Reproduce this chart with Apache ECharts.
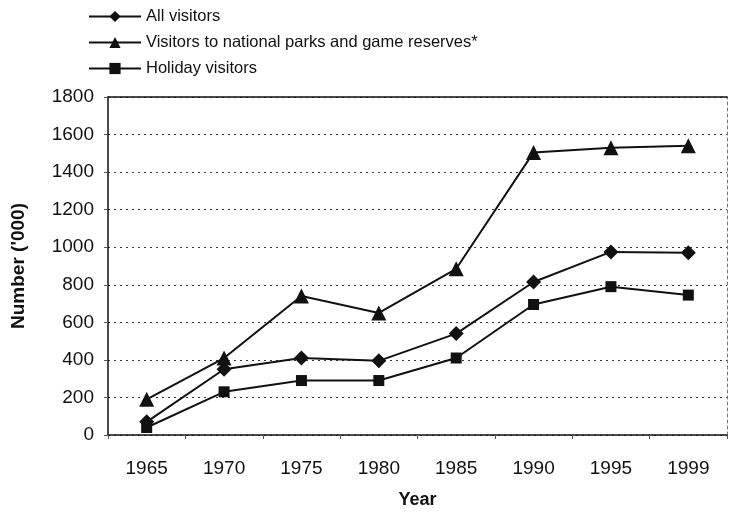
<!DOCTYPE html>
<html><head><meta charset="utf-8">
<script src="https://cdn.jsdelivr.net/npm/echarts@6/dist/echarts.min.js"></script>
<style>html,body{margin:0;padding:0;background:#fff}#c{width:733px;height:514px}</style>
</head><body><div id="c"></div>
<script>
const years = ['1965','1970','1975','1980','1985','1990','1995','1999'];
const allVisitors = [70, 350, 410, 395, 540, 815, 975, 970];
const parkVisitors = [190, 410, 740, 650, 885, 1505, 1530, 1540];
const holidayVisitors = [40, 230, 290, 290, 410, 695, 790, 745];
const seriesNames = ['All visitors', 'Visitors to national parks and game reserves*', 'Holiday visitors'];

const font = 'Liberation Sans, Arial, sans-serif';
const ink = '#111';
function line(name, data, symbol, size) {
  return { name, type: 'line', data, symbol, symbolSize: size,
    lineStyle: { color: ink, width: 2 }, itemStyle: { color: ink },
    emphasis: { disabled: true }, animation: false };
}
const chart = echarts.init(document.getElementById('c'));
chart.setOption({
  animation: false,
  legend: {
    orient: 'vertical', left: 83, top: 3, itemWidth: 52, itemHeight: 14, itemGap: 9,
    textStyle: { fontFamily: font, fontSize: 16.5, color: ink },
    data: seriesNames
  },
  grid: { left: 108, right: 6, top: 97, bottom: 77 },
  xAxis: [{
    type: 'category', data: years, boundaryGap: true,
    axisLine: { lineStyle: { color: ink, width: 1.5 } },
    axisTick: { show: true, length: 4, lineStyle: { color: '#555' } },
    axisLabel: { fontFamily: font, fontSize: 19, color: ink, margin: 24 },
    name: 'Year', nameLocation: 'middle', nameGap: 56,
    nameTextStyle: { fontFamily: font, fontSize: 18, fontWeight: 'bold', color: ink }
  }, {
    type: 'category', data: years, position: 'top',
    axisLine: { show: true, onZero: false, lineStyle: { color: ink, width: 1.5 } },
    axisTick: { show: false }, axisLabel: { show: false }
  }],
  yAxis: [{
    type: 'value', min: 0, max: 1800, interval: 200,
    axisLine: { show: true, lineStyle: { color: ink, width: 1.5 } },
    axisTick: { show: true, length: 4, inside: false, lineStyle: { color: '#555' } },
    axisLabel: { fontFamily: font, fontSize: 19, color: ink, margin: 14, formatter: v => String(v) },
    splitLine: { show: true, lineStyle: { color: '#333', type: [2, 4], width: 1.2 } },
    name: "Number ('000)", nameLocation: 'middle', nameGap: 80,
    nameTextStyle: { fontFamily: font, fontSize: 19, fontWeight: 'bold', color: ink }
  }, {
    type: 'value', min: 0, max: 1800, interval: 200, position: 'right',
    axisLine: { show: true, onZero: false, lineStyle: { color: '#777', width: 1, type: [3, 3] } },
    axisTick: { show: false }, axisLabel: { show: false }, splitLine: { show: false }
  }],
  series: [
    line(seriesNames[0], allVisitors, 'diamond', 15),
    line(seriesNames[1], parkVisitors, 'triangle', 15),
    line(seriesNames[2], holidayVisitors, 'rect', 11)
  ]
});
</script></body></html>
